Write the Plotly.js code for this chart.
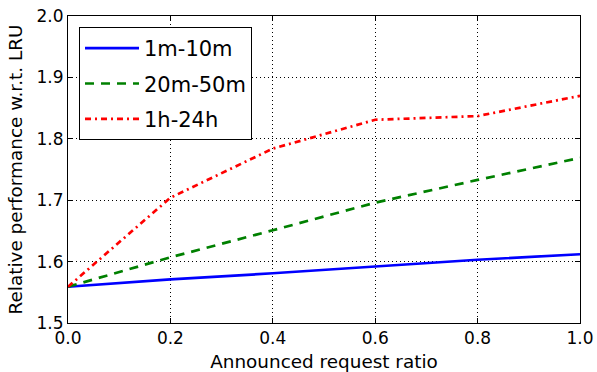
<!DOCTYPE html>
<html>
<head>
<meta charset="utf-8">
<script src="https://cdn.plot.ly/plotly-3.0.1.min.js"></script>
<style>html,body{margin:0;padding:0;background:#fff;}#chart{width:597px;height:372px;}</style>
</head>
<body>
<div id="chart"></div>
<script>
const ratios = [0.0, 0.2, 0.4, 0.6, 0.8, 1.0];
const series1m10m = [1.559, 1.571, 1.581, 1.592, 1.603, 1.612];
const series20m50m = [1.559, 1.607, 1.651, 1.696, 1.733, 1.769];
const series1h24h = [1.559, 1.704, 1.784, 1.831, 1.837, 1.870];
const seriesNames = ["1m-10m", "20m-50m", "1h-24h"];
const xTicks = [0.0, 0.2, 0.4, 0.6, 0.8, 1.0];
const yTicks = [1.5, 1.6, 1.7, 1.8, 1.9, 2.0];

const traces = [
  {x: ratios, y: series1m10m, name: seriesNames[0], mode: "lines", legendgroup: "a",
   line: {color: "#0000ff", width: 2.7}},
  {x: ratios, y: series20m50m, name: seriesNames[1], mode: "lines", legendgroup: "b",
   line: {color: "#008000", width: 2.7, dash: "9px,7px"}},
  {x: ratios, y: series1h24h, name: seriesNames[2], mode: "lines", legendgroup: "c",
   line: {color: "#ff0000", width: 2.7, dash: "6px,4px,2px,4px"}}
];

const axisCommon = {
  showline: true, linecolor: "#000", linewidth: 1, mirror: "allticks",
  ticks: "inside", ticklen: 5, tickwidth: 1, tickcolor: "#000",
  showgrid: true, gridcolor: "#000", gridwidth: 1, griddash: "1px,3px",
  zeroline: false, tickformat: ".1f",
  tickfont: {family: "DejaVu Sans", size: 17, color: "#000"}
};

const layout = {
  width: 597, height: 372,
  margin: {l: 68, r: 17, t: 16, b: 49},
  paper_bgcolor: "#fff", plot_bgcolor: "#fff",
  font: {family: "DejaVu Sans", color: "#000"},
  xaxis: Object.assign({}, axisCommon, {
    range: [0, 1], tickvals: xTicks,
    title: {text: "Announced request ratio", font: {size: 18.4, family: "DejaVu Sans"}, standoff: 8}
  }),
  yaxis: Object.assign({}, axisCommon, {
    range: [1.5, 2.0], tickvals: yTicks,
    title: {text: "Relative performance w.r.t. LRU", font: {size: 18.4, family: "DejaVu Sans"}, standoff: 9}
  }),
  showlegend: true,
  legend: {
    x: 0.0215, y: 0.964, xanchor: "left", yanchor: "top",
    bgcolor: "#fff", bordercolor: "#000", borderwidth: 1,
    font: {size: 21, family: "DejaVu Sans", color: "#000"},
    traceorder: "grouped", tracegroupgap: 5, itemwidth: 54
  }
};

Plotly.newPlot("chart", traces, layout, {displayModeBar: false, staticPlot: true});
</script>
</body>
</html>
